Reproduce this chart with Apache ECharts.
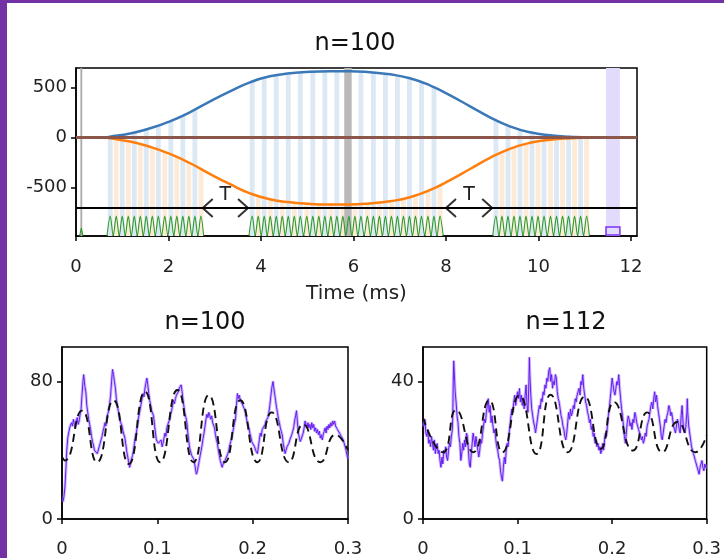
<!DOCTYPE html>
<html><head><meta charset="utf-8">
<script src="https://cdn.jsdelivr.net/npm/echarts@6/dist/echarts.min.js"></script>
<style>html,body{margin:0;padding:0;background:#fff;}#c{width:724px;height:558px;}</style>
</head><body><div id="c"></div>
<script>
// ---------------- data: top panel ----------------
const topTitle = 'n=100';
const topXName = 'Time (ms)';
const topXTicks = [0, 2, 4, 6, 8, 10, 12];
const topYTicks = [-500, 0, 500];
const TOP_XMAX = 12.13, TOP_YMIN = -985, TOP_YMAX = 695;

const blueCurve = [[0,0],[0.6,0],[0.73,8],[1.17,40],[1.6,92],[2.03,162],[2.46,252],[2.9,362],[3.33,462],[3.76,552],[4.19,612],[4.63,642],[5.06,657],[5.49,662],[5.92,662],[6.36,652],[6.79,632],[7.22,592],[7.65,522],[8.09,422],[8.52,312],[8.95,202],[9.38,112],[9.82,52],[10.25,22],[10.68,7],[11.1,0],[12.13,0]];
const orangeCurve = [[0,0],[0.6,0],[0.73,-8],[1.17,-40],[1.6,-93],[2.03,-164],[2.46,-255],[2.9,-366],[3.33,-467],[3.76,-558],[4.19,-618],[4.63,-648],[5.06,-664],[5.49,-669],[5.92,-669],[6.36,-659],[6.79,-638],[7.22,-598],[7.65,-527],[8.09,-426],[8.52,-315],[8.95,-204],[9.38,-113],[9.82,-53],[10.25,-22],[10.68,-7],[11.1,0],[12.13,0]];

const blueBarTimes = [0.74,1.00,1.26,1.52,1.78,2.05,2.31,2.57,
  3.81,4.07,4.33,4.59,4.85,5.12,5.38,5.64,5.90,6.16,6.43,6.69,6.95,7.21,7.47,7.74,
  9.08,9.34,9.60,9.86,10.12,10.39,10.65,10.91];
const blueBarTops = [9,27,50,82,118,166,220,280,
  559,595,622,640,650,658,661,662,662,657,649,637,617,593,551,501,
  175,119,80,50,31,18,8,3];
const orangeBarTimes = [0.87,1.13,1.39,1.65,1.92,2.18,2.44,2.70,
  3.94,4.20,4.46,4.72,4.99,5.25,5.51,5.77,6.03,6.30,6.56,6.82,7.08,7.34,7.61,7.87,
  9.21,9.47,9.73,9.99,10.26,10.52,10.78,11.04];
const orangeBarTops = [-17,-37,-66,-100,-145,-192,-250,-316,
  -584,-619,-637,-651,-661,-666,-669,-669,-667,-660,-649,-636,-612,-579,-533,-477,
  -148,-100,-64,-40,-22,-12,-5,-1];
const pulseGroups = [[0.67,2.76],[3.74,7.94],[9.01,11.10]];

const bandRanges = [[0.095,0.135],[5.80,5.96],[11.46,11.76]];
const markerBox = [11.46, 11.76, -895];
const tSpans = [[2.74,3.72],[8.0,9.0]];
const BASELINE = 0, GATE_LEVEL = -705, GREEN_PEAK = -785, GREEN_TROUGH = -983;
const greenSpike = [[0.08,-983],[0.115,-905],[0.15,-983]];

// ---------------- data: bottom panels ----------------
const leftTitle = 'n=100', rightTitle = 'n=112';
const bottomXTicks = [0, 0.1, 0.2, 0.3];
const leftYTicks = [0, 80], rightYTicks = [0, 40];
const LEFT_YMAX = 100, RIGHT_YMAX = 50;

const leftMeasured = [[0.001,10],[0.002,13],[0.003,18],[0.004,28],[0.005,40],[0.006,47],[0.007,50],[0.008,53],[0.009,52],[0.010,56],[0.011,54],[0.012,58],[0.013,55],[0.014,53],[0.015,57],[0.016,59],[0.017,55],[0.018,57],[0.019,61],[0.020,64],[0.021,72],[0.022,80],[0.0227,84],[0.0235,80],[0.024,77],[0.025,74],[0.026,66],[0.027,62],[0.028,58],[0.029,55],[0.030,52],[0.031,48],[0.032,45],[0.033,43],[0.034,40],[0.035,39],[0.036,41],[0.037,38],[0.038,39],[0.039,42],[0.040,44],[0.041,46],[0.042,48],[0.043,51],[0.044,53],[0.045,56],[0.046,54],[0.047,58],[0.048,61],[0.049,63],[0.050,67],[0.051,72],[0.052,80],[0.053,87],[0.054,84],[0.055,80],[0.056,76],[0.057,70],[0.058,66],[0.059,63],[0.060,60],[0.061,57],[0.062,58],[0.063,54],[0.064,51],[0.065,50],[0.066,47],[0.067,43],[0.068,39],[0.069,36],[0.070,33],[0.071,30],[0.072,33],[0.073,35],[0.074,37],[0.075,40],[0.076,44],[0.077,48],[0.078,50],[0.079,54],[0.080,58],[0.081,61],[0.082,64],[0.083,67],[0.084,70],[0.085,73],[0.086,71],[0.087,76],[0.088,79],[0.089,82],[0.090,78],[0.091,73],[0.092,69],[0.093,66],[0.094,63],[0.095,64],[0.096,60],[0.097,55],[0.098,50],[0.099,46],[0.100,47],[0.101,44],[0.102,45],[0.103,43],[0.104,46],[0.105,42],[0.106,44],[0.107,47],[0.108,50],[0.109,48],[0.110,53],[0.111,55],[0.112,54],[0.113,58],[0.114,61],[0.115,63],[0.116,66],[0.117,69],[0.118,67],[0.119,70],[0.120,72],[0.121,71],[0.122,74],[0.123,76],[0.124,75],[0.125,78],[0.126,74],[0.127,69],[0.128,65],[0.129,61],[0.130,59],[0.131,56],[0.132,50],[0.133,45],[0.134,41],[0.135,39],[0.136,37],[0.137,38],[0.138,35],[0.139,33],[0.140,29],[0.141,26],[0.1417,25],[0.142,28],[0.143,31],[0.144,34],[0.145,37],[0.146,40],[0.147,43],[0.148,47],[0.149,50],[0.150,54],[0.151,58],[0.152,61],[0.153,59],[0.154,62],[0.155,60],[0.156,58],[0.157,60],[0.158,56],[0.159,57],[0.160,53],[0.161,49],[0.162,46],[0.163,44],[0.164,40],[0.165,37],[0.166,34],[0.167,32],[0.168,30],[0.169,32],[0.170,31],[0.171,34],[0.172,33],[0.173,35],[0.174,38],[0.175,40],[0.176,43],[0.177,45],[0.178,47],[0.179,50],[0.180,53],[0.181,56],[0.182,58],[0.183,66],[0.184,73],[0.185,70],[0.186,72],[0.187,69],[0.188,70],[0.189,67],[0.190,68],[0.191,66],[0.192,63],[0.193,60],[0.194,57],[0.195,55],[0.196,53],[0.197,50],[0.198,48],[0.199,45],[0.200,44],[0.201,46],[0.202,42],[0.203,40],[0.204,39],[0.205,38],[0.206,42],[0.207,46],[0.208,50],[0.209,48],[0.210,52],[0.211,53],[0.212,51],[0.213,55],[0.214,57],[0.215,56],[0.216,59],[0.217,62],[0.218,66],[0.219,71],[0.220,76],[0.2213,80],[0.222,77],[0.223,73],[0.224,69],[0.225,65],[0.226,62],[0.227,58],[0.228,56],[0.229,53],[0.230,51],[0.231,49],[0.232,44],[0.233,41],[0.234,38],[0.235,40],[0.236,42],[0.237,41],[0.238,44],[0.239,46],[0.240,45],[0.241,49],[0.242,51],[0.243,53],[0.244,57],[0.245,60],[0.246,63],[0.247,56],[0.248,50],[0.249,47],[0.250,45],[0.251,44],[0.252,46],[0.253,50],[0.254,53],[0.255,57],[0.256,55],[0.257,53],[0.258,56],[0.259,53],[0.260,55],[0.261,52],[0.262,56],[0.263,53],[0.264,55],[0.265,51],[0.266,53],[0.267,50],[0.268,52],[0.269,49],[0.270,51],[0.271,47],[0.272,49],[0.273,46],[0.274,49],[0.275,51],[0.276,53],[0.277,50],[0.278,54],[0.279,52],[0.280,55],[0.281,53],[0.282,56],[0.283,54],[0.284,57],[0.285,55],[0.286,57],[0.287,54],[0.288,55],[0.289,52],[0.290,53],[0.291,50],[0.292,51],[0.293,48],[0.294,49],[0.295,46],[0.296,44],[0.297,42],[0.298,40],[0.299,37],[0.3,35]];
const leftModel = [[0.0,36],[0.003,34],[0.021,63],[0.0367,33],[0.054,69],[0.070,32],[0.087,74],[0.103,33],[0.121,75],[0.138,33],[0.154,72],[0.171,33],[0.187,69],[0.205,33],[0.220,62],[0.238,33],[0.253,55],[0.271,33],[0.287,49],[0.3,40]];

const rightMeasured = [[0.000,28],[0.001,27],[0.002,29],[0.003,25],[0.004,24],[0.005,26],[0.006,22],[0.007,23],[0.008,21],[0.009,24],[0.010,22],[0.011,20],[0.012,23],[0.013,19],[0.014,21],[0.015,22],[0.016,19],[0.017,20],[0.018,17],[0.019,15],[0.020,18],[0.021,16],[0.022,20],[0.023,19],[0.024,21],[0.025,18],[0.026,17],[0.027,20],[0.028,22],[0.029,21],[0.030,24],[0.031,26],[0.0315,30],[0.032,40],[0.0325,46],[0.033,43],[0.034,37],[0.035,34],[0.036,30],[0.037,28],[0.038,24],[0.039,22],[0.040,17],[0.041,19],[0.042,22],[0.043,20],[0.044,23],[0.045,21],[0.046,25],[0.047,24],[0.048,20],[0.049,16],[0.050,15],[0.051,19],[0.052,22],[0.053,25],[0.054,23],[0.055,21],[0.056,24],[0.057,22],[0.058,20],[0.059,18],[0.060,20],[0.061,23],[0.062,22],[0.063,25],[0.064,27],[0.065,29],[0.066,28],[0.067,31],[0.068,33],[0.069,35],[0.070,31],[0.071,33],[0.072,28],[0.073,30],[0.074,27],[0.075,25],[0.076,26],[0.077,23],[0.078,21],[0.079,20],[0.080,18],[0.081,17],[0.082,14],[0.083,12],[0.084,11],[0.085,15],[0.086,18],[0.087,16],[0.088,20],[0.089,22],[0.090,21],[0.091,25],[0.092,27],[0.093,30],[0.094,32],[0.095,31],[0.096,34],[0.097,36],[0.098,33],[0.099,35],[0.100,37],[0.101,35],[0.102,38],[0.103,34],[0.104,36],[0.105,33],[0.106,35],[0.107,32],[0.108,36],[0.109,39],[0.110,33],[0.111,31],[0.112,40],[0.1125,47],[0.113,42],[0.114,36],[0.115,32],[0.116,30],[0.117,28],[0.118,27],[0.119,25],[0.120,27],[0.121,29],[0.122,31],[0.123,33],[0.124,32],[0.125,35],[0.126,34],[0.127,37],[0.128,36],[0.129,39],[0.130,38],[0.131,41],[0.132,40],[0.133,43],[0.134,44],[0.135,40],[0.136,42],[0.137,38],[0.138,40],[0.139,39],[0.140,42],[0.141,41],[0.142,37],[0.143,35],[0.144,34],[0.145,32],[0.146,30],[0.147,29],[0.148,27],[0.149,26],[0.150,24],[0.151,23],[0.152,25],[0.153,28],[0.154,31],[0.155,29],[0.156,32],[0.157,30],[0.158,31],[0.159,33],[0.160,32],[0.161,35],[0.162,34],[0.163,36],[0.164,37],[0.165,38],[0.166,36],[0.167,40],[0.168,39],[0.169,42],[0.170,38],[0.171,36],[0.172,34],[0.173,33],[0.174,31],[0.175,30],[0.176,28],[0.177,29],[0.178,26],[0.179,27],[0.180,24],[0.181,25],[0.182,22],[0.183,23],[0.184,21],[0.185,22],[0.186,20],[0.187,21],[0.188,19],[0.189,20],[0.190,22],[0.191,20],[0.192,23],[0.193,25],[0.194,24],[0.195,27],[0.196,30],[0.197,32],[0.198,35],[0.199,38],[0.200,41],[0.201,39],[0.202,37],[0.203,36],[0.204,38],[0.205,40],[0.206,39],[0.207,42],[0.208,38],[0.209,35],[0.210,32],[0.211,30],[0.212,27],[0.213,24],[0.214,22],[0.215,25],[0.216,28],[0.217,30],[0.218,29],[0.219,27],[0.220,28],[0.221,26],[0.222,29],[0.223,28],[0.224,31],[0.225,30],[0.226,28],[0.227,27],[0.228,26],[0.229,25],[0.230,24],[0.231,23],[0.232,24],[0.233,22],[0.234,23],[0.235,25],[0.236,24],[0.237,27],[0.238,28],[0.239,29],[0.240,31],[0.241,33],[0.242,34],[0.243,32],[0.244,35],[0.245,37],[0.246,34],[0.247,36],[0.248,33],[0.249,31],[0.250,29],[0.251,27],[0.252,24],[0.253,23],[0.254,25],[0.255,27],[0.256,29],[0.257,28],[0.258,30],[0.259,31],[0.260,33],[0.261,32],[0.262,30],[0.263,31],[0.264,29],[0.265,27],[0.266,26],[0.267,25],[0.268,27],[0.269,29],[0.270,28],[0.271,26],[0.272,25],[0.273,30],[0.274,33],[0.275,28],[0.276,26],[0.277,25],[0.278,27],[0.279,31],[0.2795,35],[0.280,31],[0.281,27],[0.282,25],[0.283,23],[0.284,21],[0.285,20],[0.286,19],[0.287,18],[0.288,17],[0.289,16],[0.290,15],[0.291,14],[0.292,13],[0.293,15],[0.294,16],[0.295,17],[0.296,15],[0.297,14],[0.298,16],[0.299,15],[0.3,15]];
const rightModel = [[0,29.5],[0.021,19.4],[0.035,31.7],[0.053,19.4],[0.070,34.5],[0.084,19.4],[0.102,35.9],[0.120,18.9],[0.135,36.1],[0.153,19.4],[0.171,35.6],[0.188,20.4],[0.202,34],[0.222,19.9],[0.237,31],[0.253,19.4],[0.269,28.2],[0.288,19.4],[0.3,24.3]];

// ---------------- build ----------------
const FONT = 'DejaVu Sans';
const TICK_FS = 18, TITLE_FS = 24, NAME_FS = 20;
const BAR_W = 0.105;

function zip(a, b) { return a.map((v, i) => [v, b[i]]); }

function buildGreen() {
  const pulses = blueBarTimes.concat(orangeBarTimes).sort((a, b) => a - b);
  const out = [];
  pulseGroups.forEach(([g0, g1]) => {
    const ps = pulses.filter(p => p >= g0 && p <= g1);
    out.push([g0, GREEN_TROUGH]);
    ps.forEach((p, i) => {
      out.push([p, GREEN_PEAK]);
      if (i < ps.length - 1) out.push([(p + ps[i + 1]) / 2, GREEN_TROUGH]);
    });
    out.push([g1, GREEN_TROUGH]);
    out.push([g1 + 0.01, null]);
  });
  return out;
}

function tick(values) { return { show: true, inside: false, length: 5, customValues: values, lineStyle: { color: '#000', width: 1.5 } }; }
function label(values, margin) { return { color: '#222', fontSize: TICK_FS, fontFamily: FONT, margin: margin, customValues: values }; }
function axis(extra) {
  return Object.assign({
    type: 'value',
    axisLine: { show: true, onZero: false, lineStyle: { color: '#000', width: 1.5 } },
    splitLine: { show: false }
  }, extra);
}

function barSeries(times, tops, fill) {
  return {
    type: 'custom', xAxisIndex: 0, yAxisIndex: 0, silent: true,
    data: zip(times, tops),
    renderItem: (p, api) => {
      const t = api.value(0), top = api.value(1);
      const a = api.coord([t - BAR_W / 2, top]);
      const b = api.coord([t + BAR_W / 2, TOP_YMIN]);
      return { type: 'rect', shape: { x: a[0], y: a[1], width: b[0] - a[0], height: b[1] - a[1] }, style: { fill: fill } };
    }
  };
}

const bandFills = ['#ababab', '#b9b9b9', '#e2dbfb'];

const chart = echarts.init(document.getElementById('c'), null, { renderer: 'canvas' });
const frame = { show: true, borderColor: '#000', borderWidth: 1.5, backgroundColor: 'transparent' };
const titleStyle = (t) => ({ text: t, fontSize: TITLE_FS, fontFamily: FONT, fill: '#111', align: 'center', verticalAlign: 'middle' });

const option = {
  animation: false,
  backgroundColor: '#fff',
  grid: [
    Object.assign({ left: 76, top: 68, width: 561, height: 168 }, frame),
    Object.assign({ left: 62, top: 347, width: 286, height: 172 }, frame),
    Object.assign({ left: 423, top: 347, width: 285, height: 172 }, frame)
  ],
  xAxis: [
    axis({ gridIndex: 0, min: 0, max: TOP_XMAX,
      name: topXName, nameLocation: 'middle', nameGap: 48,
      nameTextStyle: { color: '#222', fontSize: NAME_FS, fontFamily: FONT },
      axisTick: tick(topXTicks), axisLabel: label(topXTicks, 22) }),
    axis({ gridIndex: 1, min: 0, max: 0.3, axisTick: tick(bottomXTicks), axisLabel: label(bottomXTicks, 21) }),
    axis({ gridIndex: 2, min: 0, max: 0.3, axisTick: tick(bottomXTicks), axisLabel: label(bottomXTicks, 21) })
  ],
  yAxis: [
    axis({ gridIndex: 0, min: TOP_YMIN, max: TOP_YMAX, axisTick: tick(topYTicks), axisLabel: label(topYTicks, 9) }),
    axis({ gridIndex: 1, min: 0, max: LEFT_YMAX, axisTick: tick(leftYTicks), axisLabel: label(leftYTicks, 9) }),
    axis({ gridIndex: 2, min: 0, max: RIGHT_YMAX, axisTick: tick(rightYTicks), axisLabel: label(rightYTicks, 9) })
  ],
  graphic: [
    { type: 'rect', shape: { x: 0, y: 0, width: 7, height: 558 }, style: { fill: '#7332a4' }, z: 100 },
    { type: 'rect', shape: { x: 0, y: 0, width: 724, height: 3 }, style: { fill: '#7332a4' }, z: 100 },
    { type: 'text', x: 355, y: 44, style: titleStyle(topTitle) },
    { type: 'text', x: 205, y: 323, style: titleStyle(leftTitle) },
    { type: 'text', x: 566, y: 323, style: titleStyle(rightTitle) }
  ],
  series: [
    barSeries(blueBarTimes, blueBarTops, '#dce8f4'),
    barSeries(orangeBarTimes, orangeBarTops, '#fdebd7'),
    {
      type: 'custom', xAxisIndex: 0, yAxisIndex: 0, silent: true, data: bandRanges,
      renderItem: (p, api) => {
        const a = api.coord([api.value(0), TOP_YMAX]);
        const b = api.coord([api.value(1), TOP_YMIN]);
        return { type: 'rect', shape: { x: a[0], y: a[1], width: b[0] - a[0], height: b[1] - a[1] }, style: { fill: bandFills[p.dataIndex] } };
      }
    },
    { type: 'line', xAxisIndex: 0, yAxisIndex: 0, data: buildGreen(), showSymbol: false, smooth: 0.3, connectNulls: false,
      lineStyle: { color: '#2b9a2b', width: 1.1 } },
    { type: 'line', xAxisIndex: 0, yAxisIndex: 0, data: greenSpike, showSymbol: false,
      lineStyle: { color: '#2b9a2b', width: 1.1 } },
    { type: 'line', xAxisIndex: 0, yAxisIndex: 0, data: blueCurve, showSymbol: false, smooth: 0.5,
      lineStyle: { color: '#3b78b8', width: 2.5 } },
    { type: 'line', xAxisIndex: 0, yAxisIndex: 0, data: orangeCurve, showSymbol: false, smooth: 0.5,
      lineStyle: { color: '#ff7f0e', width: 2.5 } },
    { type: 'line', xAxisIndex: 0, yAxisIndex: 0, data: [[0, BASELINE], [TOP_XMAX, BASELINE]], showSymbol: false,
      lineStyle: { color: '#8c564b', width: 3.2 } },
    { type: 'line', xAxisIndex: 0, yAxisIndex: 0, data: [[0, GATE_LEVEL], [TOP_XMAX, GATE_LEVEL]], showSymbol: false,
      lineStyle: { color: '#000', width: 2 } },
    {
      type: 'custom', xAxisIndex: 0, yAxisIndex: 0, silent: true, data: [markerBox],
      renderItem: (p, api) => {
        const a = api.coord([api.value(0), api.value(2)]);
        const b = api.coord([api.value(1), TOP_YMIN]);
        return { type: 'rect', shape: { x: a[0], y: a[1], width: b[0] - a[0], height: b[1] - a[1] - 1 }, style: { fill: 'none', stroke: '#7b2ff7', lineWidth: 1.5 } };
      }
    },
    {
      type: 'custom', xAxisIndex: 0, yAxisIndex: 0, silent: true, data: tSpans,
      renderItem: (p, api) => {
        const a = api.coord([api.value(0), GATE_LEVEL]);
        const b = api.coord([api.value(1), GATE_LEVEL]);
        const st = { stroke: '#333', lineWidth: 2, fill: null };
        return { type: 'group', children: [
          { type: 'polyline', shape: { points: [[a[0] + 10, a[1] - 9], [a[0], a[1]], [a[0] + 10, a[1] + 9]] }, style: st },
          { type: 'polyline', shape: { points: [[b[0] - 10, b[1] - 9], [b[0], b[1]], [b[0] - 10, b[1] + 9]] }, style: st },
          { type: 'text', x: (a[0] + b[0]) / 2, y: a[1] - 13, style: { text: 'T', fontSize: 19, fontFamily: FONT, fill: '#222', align: 'center', verticalAlign: 'middle' } }
        ] };
      }
    },
    // bottom-left
    { type: 'line', xAxisIndex: 1, yAxisIndex: 1, data: leftMeasured, showSymbol: false,
      lineStyle: { color: 'rgba(160,130,255,0.55)', width: 3 } },
    { type: 'line', xAxisIndex: 1, yAxisIndex: 1, data: leftMeasured, showSymbol: false,
      lineStyle: { color: '#6a1cf0', width: 1 } },
    { type: 'line', xAxisIndex: 1, yAxisIndex: 1, data: leftModel, showSymbol: false, smooth: 0.55,
      lineStyle: { color: '#111', width: 1.9, type: [8, 5] } },
    // bottom-right
    { type: 'line', xAxisIndex: 2, yAxisIndex: 2, data: rightMeasured, showSymbol: false,
      lineStyle: { color: 'rgba(160,130,255,0.55)', width: 3 } },
    { type: 'line', xAxisIndex: 2, yAxisIndex: 2, data: rightMeasured, showSymbol: false,
      lineStyle: { color: '#6a1cf0', width: 1 } },
    { type: 'line', xAxisIndex: 2, yAxisIndex: 2, data: rightModel, showSymbol: false, smooth: 0.55,
      lineStyle: { color: '#111', width: 1.9, type: [8, 5] } }
  ]
};
chart.setOption(option);
</script></body></html>
